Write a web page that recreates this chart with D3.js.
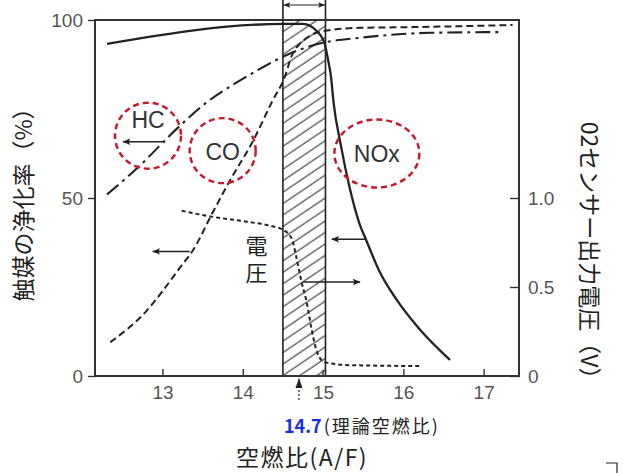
<!DOCTYPE html>
<html><head><meta charset="utf-8">
<script src="https://cdn.jsdelivr.net/npm/d3@7"></script>
<style>
html,body{margin:0;padding:0;background:#fff;}
svg{display:block;}
</style></head>
<body>
<svg id="c" width="636" height="473"></svg>
<script>
// ---- data ----
const xTicks = [13, 14, 15, 16, 17];
const leftTicks = [0, 50, 100];
const rightTicks = [0, 0.5, 1.0];
const rightTickLabels = ["0", "0.5", "1.0"];
const bandRange = [14.5, 15.03];
const stoich = 14.7;

const noxX = [12.31, 14.52, 14.75, 14.92, 15.02, 15.06, 15.10, 15.13, 15.22, 15.33, 15.45, 15.54, 15.70, 15.92, 16.20, 16.58];
const noxY = [93.3, 98.9, 98.9, 96.9, 93.3, 89.1, 83.8, 77.0, 65.0, 53.0, 43.0, 38.0, 29.5, 21.3, 13.2, 4.5];

const hcX = [12.31, 12.69, 13.19, 13.53, 13.90, 14.24, 14.52, 15.00, 15.46, 16.33, 17.20];
const hcY = [51.0, 58.5, 69.7, 76.5, 82.1, 86.6, 89.9, 93.6, 95.0, 96.4, 96.6];

const coX = [12.35, 12.81, 13.01, 13.22, 13.38, 13.62, 13.84, 14.13, 14.37, 14.52, 14.62, 14.71, 14.83, 15.00, 15.46, 16.12, 17.36];
const coY = [9.5, 18.5, 24.1, 30.5, 35.3, 45.7, 54.9, 66.1, 77.3, 83.8, 90.5, 93.3, 95.5, 96.9, 97.8, 98.0, 98.6];

const voltX = [13.24, 13.63, 14.05, 14.34, 14.50, 14.61, 14.67, 14.73, 14.80, 14.86, 14.93, 15.02, 15.33, 16.20];
const voltY = [0.928, 0.894, 0.867, 0.844, 0.822, 0.772, 0.661, 0.533, 0.406, 0.256, 0.128, 0.078, 0.061, 0.056];

// label/ellipse anchors (data coords)
const ellipses = [
  {name: "HC", x: 12.82, y: 67.5, rx: 33, ry: 33},
  {name: "CO", x: 13.75, y: 63.3, rx: 33, ry: 32.5},
  {name: "NOx", x: 15.67, y: 62.5, rx: 42.5, ry: 34}
];
const arrows = [
  {axis: "L", x1: 13.03, x2: 12.51, y: 65.8},
  {axis: "L", x1: 13.34, x2: 12.88, y: 35.0},
  {axis: "L", x1: 15.54, x2: 15.11, y: 38.4},
  {axis: "R", x1: 14.75, x2: 15.46, y: 0.528}
];

// ---- layout ----
const svg = d3.select("#c");
const x = d3.scaleLinear().domain([12.16, 17.44]).range([95, 519]);
const yL = d3.scaleLinear().domain([0, 100]).range([376, 20]);
const yR = d3.scaleLinear().domain([0, 2]).range([376, 20]);

const ink = "#222";
const tickFont = "'Liberation Sans', Arial, sans-serif";
const jpFont = "'Noto Sans CJK JP', sans-serif";

const defs = svg.append("defs");
const pat = defs.append("pattern").attr("id", "hatch")
  .attr("patternUnits", "userSpaceOnUse").attr("width", 10).attr("height", 9.5)
  .attr("patternTransform", "rotate(-34)");
pat.append("line").attr("x1", 0).attr("x2", 10).attr("y1", 4).attr("y2", 4)
  .attr("stroke", "#333").attr("stroke-width", 1.1);
const mk = defs.append("marker").attr("id", "ah").attr("viewBox", "0 0 10 10")
  .attr("refX", 9).attr("refY", 5).attr("markerWidth", 12).attr("markerHeight", 8)
  .attr("markerUnits", "userSpaceOnUse").attr("orient", "auto-start-reverse");
mk.append("path").attr("d", "M0,1 L10,5 L0,9 L2,5 Z").attr("fill", ink);
const mk2 = defs.append("marker").attr("id", "ah2").attr("viewBox", "0 0 10 10")
  .attr("refX", 9).attr("refY", 5).attr("markerWidth", 8).attr("markerHeight", 7)
  .attr("markerUnits", "userSpaceOnUse").attr("orient", "auto-start-reverse");
mk2.append("path").attr("d", "M0,1 L10,5 L0,9 L2,5 Z").attr("fill", ink);

// band
const bx0 = x(bandRange[0]), bx1 = x(bandRange[1]);
svg.append("rect").attr("x", bx0).attr("y", yL(100)).attr("width", bx1 - bx0)
  .attr("height", yL(0) - yL(100)).attr("fill", "url(#hatch)");
[bx0, bx1].forEach(v => svg.append("line").attr("x1", v).attr("x2", v)
  .attr("y1", 0).attr("y2", yL(0)).attr("stroke", ink).attr("stroke-width", 1.6));
svg.append("line").attr("x1", bx0 + 1).attr("x2", bx1 - 1).attr("y1", 5).attr("y2", 5)
  .attr("stroke", ink).attr("stroke-width", 1.2)
  .attr("marker-start", "url(#ah2)").attr("marker-end", "url(#ah2)");

// frame
svg.append("rect").attr("x", x.range()[0]).attr("y", yL(100))
  .attr("width", x.range()[1] - x.range()[0]).attr("height", yL(0) - yL(100))
  .attr("fill", "none").attr("stroke", "#333").attr("stroke-width", 2);

// axes
const ax = svg.append("g").attr("transform", `translate(0,${yL(0)})`)
  .call(d3.axisBottom(x).tickValues(xTicks).tickSizeInner(-7).tickSizeOuter(0).tickPadding(10).tickFormat(d3.format("d")));
const al = svg.append("g").attr("transform", `translate(${x.range()[0]},0)`)
  .call(d3.axisLeft(yL).tickValues(leftTicks).tickSizeInner(7).tickSizeOuter(0).tickPadding(5).tickFormat(d3.format("d")));
const ar = svg.append("g").attr("transform", `translate(${x.range()[1]},0)`)
  .call(d3.axisRight(yR).tickValues(rightTicks).tickSizeInner(-9).tickSizeOuter(0).tickPadding(9)
    .tickFormat((d, i) => rightTickLabels[i]));
[ax, al, ar].forEach(g => {
  g.select(".domain").remove();
  g.selectAll(".tick line").attr("stroke", "#333").attr("stroke-width", 1.4);
  g.selectAll("text").attr("font-family", tickFont).attr("font-size", 19).attr("fill", "#555");
});
ax.selectAll(".tick").filter(d => d === 15).select("line").remove();
svg.append("line").attr("x1", x(15)).attr("x2", x(15)).attr("y1", yL(0)).attr("y2", yL(0) - 6)
  .attr("stroke", "#333").attr("stroke-width", 1.4);

// curves
const lineL = d3.line().x(d => x(d[0])).y(d => yL(d[1])).curve(d3.curveMonotoneX);
const lineR = d3.line().x(d => x(d[0])).y(d => yR(d[1])).curve(d3.curveMonotoneX);
svg.append("path").attr("d", lineL(d3.zip(noxX, noxY))).attr("fill", "none")
  .attr("stroke", ink).attr("stroke-width", 2.3);
svg.append("path").attr("d", lineL(d3.zip(hcX, hcY))).attr("fill", "none")
  .attr("stroke", ink).attr("stroke-width", 2.1).attr("stroke-dasharray", "15,5,3,5");
svg.append("path").attr("d", lineL(d3.zip(coX, coY))).attr("fill", "none")
  .attr("stroke", ink).attr("stroke-width", 2).attr("stroke-dasharray", "7,4");
svg.append("path").attr("d", lineR(d3.zip(voltX, voltY))).attr("fill", "none")
  .attr("stroke", ink).attr("stroke-width", 2).attr("stroke-dasharray", "4,3");

// arrows
arrows.forEach(a => {
  const ys = a.axis === "L" ? yL(a.y) : yR(a.y);
  svg.append("line").attr("x1", x(a.x1)).attr("x2", x(a.x2)).attr("y1", ys).attr("y2", ys)
    .attr("stroke", ink).attr("stroke-width", 1.5).attr("marker-end", "url(#ah)");
});

// red ellipses + labels
ellipses.forEach(e => {
  svg.append("ellipse").attr("cx", x(e.x)).attr("cy", yL(e.y)).attr("rx", e.rx).attr("ry", e.ry)
    .attr("fill", "none").attr("stroke", "#c9162a").attr("stroke-width", 2.4).attr("stroke-dasharray", "6,4");
});
const lab = (t, px, py, size) => svg.append("text").attr("x", px).attr("y", py)
  .attr("text-anchor", "middle").attr("dominant-baseline", "central")
  .attr("font-family", tickFont).attr("font-size", size).attr("fill", "#333").text(t);
lab("HC", x(12.82), yL(71.8), 23);
lab("CO", x(13.75), yL(63.0), 23);
lab("NOx", x(15.67), yL(62.3), 23);

// vertical label 電圧
svg.append("text").attr("x", x(14.17)).attr("y", 262).attr("text-anchor", "middle")
  .attr("writing-mode", "vertical-rl").attr("letter-spacing", 5)
  .attr("font-family", jpFont).attr("font-size", 22).attr("fill", ink).text("電圧");

// stoich arrow below axis
const sx = x(stoich);
svg.append("line").attr("x1", sx).attr("x2", sx).attr("y1", 400).attr("y2", 379)
  .attr("stroke", ink).attr("stroke-width", 1.2).attr("stroke-dasharray", "2,2");
svg.append("path").attr("d", `M${sx - 3.5},${388} L${sx},${378} L${sx + 3.5},${388} Z`).attr("fill", ink);

const st = svg.append("text").attr("x", 284).attr("y", 425).attr("dominant-baseline", "central")
  .attr("font-family", jpFont);
st.append("tspan").attr("font-size", 18).attr("font-weight", "bold").attr("fill", "#1a2ee6").text(stoich.toFixed(1));
st.append("tspan").attr("font-size", 18).attr("fill", ink).attr("dx", 2).attr("letter-spacing", 2).text("(理論空燃比)");

svg.append("text").attr("x", 302).attr("y", 456).attr("text-anchor", "middle")
  .attr("dominant-baseline", "central").attr("font-family", jpFont).attr("font-size", 23)
  .attr("letter-spacing", 1.5).attr("fill", ink)
  .text("空燃比(A/F)");

svg.append("text").attr("transform", "translate(22,199) rotate(-90)").attr("text-anchor", "middle")
  .attr("dominant-baseline", "central").attr("font-family", jpFont).attr("font-size", 23).attr("fill", ink)
  .text("触媒の浄化率（%）");
svg.append("text").attr("transform", "translate(591,256) rotate(90)").attr("text-anchor", "middle")
  .attr("dominant-baseline", "central").attr("font-family", jpFont).attr("font-size", 23).attr("fill", ink)
  .text("02センサー出力電圧（V）");

// corner mark
svg.append("path").attr("d", "M606,463 H617 V473").attr("fill", "none").attr("stroke", ink).attr("stroke-width", 1.2);
</script>
</body></html>
